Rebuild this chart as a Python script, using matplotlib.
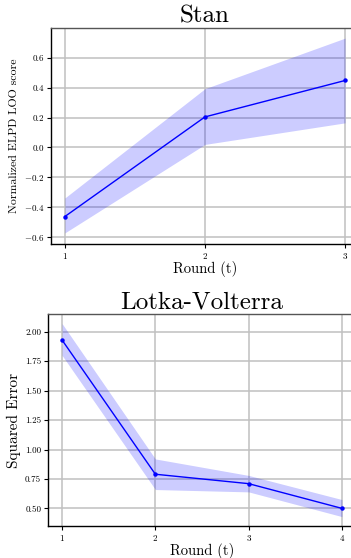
import matplotlib
matplotlib.use("Agg")
import matplotlib.pyplot as plt

plt.rcParams['font.family'] = 'serif'
plt.rcParams['font.serif'] = ['cmr10']
plt.rcParams['mathtext.fontset'] = 'cm'
plt.rcParams['axes.formatter.use_mathtext'] = True
plt.rcParams['axes.unicode_minus'] = True

# Stan panel
stan_rounds = [1, 2, 3]
stan_mean = [-0.465, 0.205, 0.45]
stan_lower = [-0.575, 0.02, 0.165]
stan_upper = [-0.34, 0.395, 0.735]

# Lotka-Volterra panel
lv_rounds = [1, 2, 3, 4]
lv_mean = [1.93, 0.79, 0.71, 0.50]
lv_lower = [1.80, 0.66, 0.64, 0.43]
lv_upper = [2.07, 0.92, 0.78, 0.575]

fig = plt.figure(figsize=(3.51, 5.58), dpi=100)
ax1 = fig.add_axes([0.145, 0.5627, 0.878, 0.3863])
ax2 = fig.add_axes([0.137, 0.0573, 0.877, 0.3797])


def draw(ax, x, mean, lo, hi, title, ylabel, ylabel_size, xlim, ylim, yticks, fmt):
    ax.fill_between(x, lo, hi, color='blue', alpha=0.2, linewidth=0)
    ax.plot(x, mean, color='blue', linewidth=1.0, marker='o', markersize=2.2)
    ax.set_title(title, fontsize=18, pad=4)
    ax.set_xlabel("Round (t)", fontsize=10.5, labelpad=0)
    ax.set_ylabel(ylabel, fontsize=ylabel_size, labelpad=3)
    ax.set_xlim(*xlim)
    ax.set_ylim(*ylim)
    ax.set_xticks(x)
    ax.set_yticks(yticks)
    ax.set_yticklabels([fmt(v) for v in yticks])
    ax.tick_params(labelsize=6.5, length=3, width=0.8, pad=2)
    ax.grid(True, color='#c0c0c0', linewidth=1.1)
    ax.set_axisbelow(True)
    for s in ax.spines.values():
        s.set_color('black')
        s.set_linewidth(1.0)
    ax.spines['top'].set_color('#555555')


draw(ax1, stan_rounds, stan_mean, stan_lower, stan_upper, "Stan",
     "Normalized ELPD LOO score", 8.5, (0.9, 3.1), (-0.65, 0.8),
     [-0.6, -0.4, -0.2, 0.0, 0.2, 0.4, 0.6],
     lambda v: "$%.1f$" % v if v < 0 else "%.1f" % v)
draw(ax2, lv_rounds, lv_mean, lv_lower, lv_upper, "Lotka-Volterra",
     "Squared Error", 11, (0.85, 4.15), (0.35, 2.15),
     [0.5, 0.75, 1.0, 1.25, 1.5, 1.75, 2.0],
     lambda v: "%.2f" % v)

fig.savefig("out.png", dpi=100)
